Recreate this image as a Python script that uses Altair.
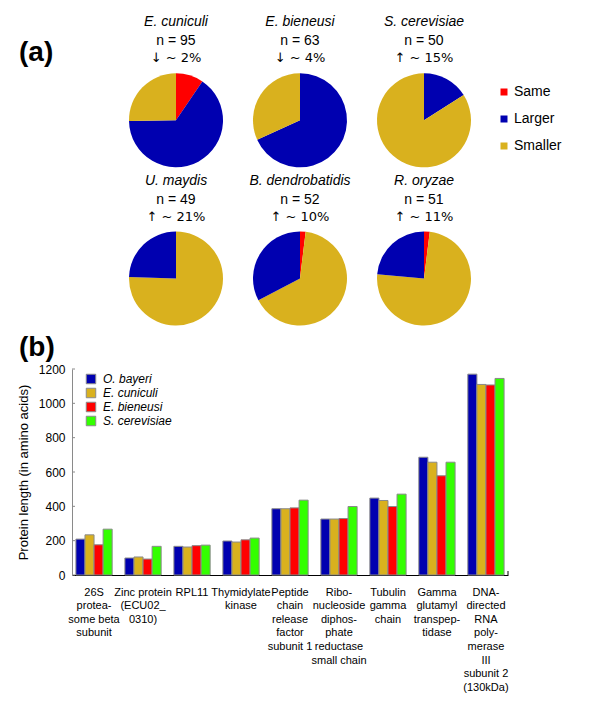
import math
import altair as alt
import pandas as pd

# ---------------- data: panel (a) ----------------
species = ["E. cuniculi", "E. bieneusi", "S. cerevisiae",
           "U. maydis", "B. dendrobatidis", "R. oryzae"]
n_total = [95, 63, 50, 49, 52, 51]
change = ["↓ ~ 2%", "↓ ~ 4%", "↑ ~ 15%", "↑ ~ 21%", "↑ ~ 10%", "↑ ~ 11%"]
same_counts = [9, 0, 0, 0, 1, 1]
larger_counts = [62, 43, 8, 12, 17, 12]
smaller_counts = [24, 20, 42, 37, 34, 38]
slice_order_row1 = ["Same", "Larger", "Smaller"]
slice_order_row2 = ["Same", "Smaller", "Larger"]
categories = ["Same", "Larger", "Smaller"]
pie_colors = ["#ff0000", "#0000b0", "#d9b11e"]

# ---------------- data: panel (b) ----------------
genes = [
    "26S|protea-|some beta|subunit",
    "Zinc protein|(ECU02_|0310)",
    "RPL11",
    "Thymidylate|kinase",
    "Peptide|chain|release|factor|subunit 1",
    "Ribo-|nucleoside|diphos-|phate|reductase|small chain",
    "Tubulin|gamma|chain",
    "Gamma|glutamyl|transpep-|tidase",
    "DNA-|directed|RNA|poly-|merase|III|subunit 2|(130kDa)",
]
bar_species = ["O. bayeri", "E. cuniculi", "E. bieneusi", "S. cerevisiae"]
o_bayeri = [209, 99, 167, 198, 386, 326, 448, 686, 1170]
e_cuniculi = [234, 105, 163, 192, 386, 326, 434, 657, 1110]
e_bieneusi = [176, 93, 171, 205, 391, 329, 399, 578, 1107]
s_cerevisiae = [267, 167, 174, 215, 436, 399, 471, 657, 1145]
bar_colors = ["#0000b0", "#d9b11e", "#ff0000", "#33ff00"]
y_ticks = [0, 200, 400, 600, 800, 1000, 1200]

FONT = "Liberation Sans"

# ---------------- build tables ----------------
pie_rows = []
title_rows = []
for i, sp in enumerate(species):
    counts = {"Same": same_counts[i], "Larger": larger_counts[i], "Smaller": smaller_counts[i]}
    order = slice_order_row1 if i < 3 else slice_order_row2
    for k, cat in enumerate(order):
        pie_rows.append({"species": sp, "gcol": i % 3, "grow": i // 3,
                         "category": cat, "count": counts[cat], "ord": k})
    title_rows.append({"species": sp, "gcol": i % 3, "grow": i // 3,
                       "ntext": f"n = {n_total[i]}", "change": change[i]})
pie_df = pd.DataFrame(pie_rows)
title_df = pd.DataFrame(title_rows)

bar_rows = []
for s, vals in zip(bar_species, [o_bayeri, e_cuniculi, e_bieneusi, s_cerevisiae]):
    for g, v in zip(genes, vals):
        bar_rows.append({"gene": g, "species": s, "length": v})
bar_df = pd.DataFrame(bar_rows)
tick_df = pd.DataFrame({"length": y_ticks})

# ---------------- panel (a) ----------------
PW = 436
PH = 320
X0 = 104.0   # first pie centre from panel origin (px)
DX = 124.0   # pie spacing (px)
Y0 = 112.3
DY = 158.2
xs = alt.Scale(domain=[-X0 / DX, (PW - X0) / DX], nice=False, zero=False)
ys = alt.Scale(domain=[-Y0 / DY, (PH - Y0) / DY], nice=False, zero=False, reverse=True)
X = alt.X("gcol:Q", scale=xs, axis=None)
Y = alt.Y("grow:Q", scale=ys, axis=None)

pies = alt.Chart(pie_df).transform_joinaggregate(
    total="sum(count)", groupby=["species"]
).transform_calculate(
    frac="datum.count / datum.total"
).transform_window(
    cum="sum(frac)", sort=[alt.SortField("ord")], groupby=["species"],
    frame=[None, 0]
).transform_calculate(
    start="datum.cum - datum.frac"
).mark_arc(outerRadius=47).encode(
    x=X, y=Y,
    theta=alt.Theta("start:Q", scale=alt.Scale(domain=[0, 1], range=[0, 2 * math.pi])),
    theta2="cum:Q",
    color=alt.Color("category:N", scale=alt.Scale(domain=categories, range=pie_colors),
                    legend=alt.Legend(title=None, orient="none", legendX=425, legendY=77,
                                      symbolType="square", symbolSize=49,
                                      symbolStrokeWidth=0,
                                      labelFontSize=14, labelFont=FONT,
                                      rowPadding=13, labelOffset=3)),
)

t_species = alt.Chart(title_df).mark_text(
    font=FONT, fontSize=14, fontStyle="italic", baseline="middle", dy=-98, color="black"
).encode(x=X, y=Y, text="species:N")
t_n = alt.Chart(title_df).mark_text(
    font=FONT, fontSize=14, baseline="middle", dy=-79, color="black"
).encode(x=X, y=Y, text="ntext:N")
t_c = alt.Chart(title_df).mark_text(
    font="DejaVu Sans", fontSize=13, baseline="middle", dy=-62, color="black"
).encode(x=X, y=Y, text="change:N")
lab_a = alt.Chart(pd.DataFrame({"t": ["(a)"]})).mark_text(
    font=FONT, fontSize=28, fontWeight="bold", align="left", baseline="middle", color="black"
).encode(x=alt.value(-53), y=alt.value(45), text="t:N")

panel_a = alt.layer(pies, t_species, t_n, t_c, lab_a).properties(width=PW, height=PH)

# ---------------- panel (b) ----------------
BH = 206
YB = alt.Y("length:Q", scale=alt.Scale(domain=[0, 1200], nice=False),
           title="Protein length (in amino acids)",
           axis=alt.Axis(values=y_ticks, format="d", ticks=False, grid=False,
                         domainColor="#8a8a8a", labelOverlap=False,
                         labelFont=FONT, labelFontSize=12, labelPadding=7,
                         labelColor="black", titleFont=FONT, titleFontSize=13,
                         titleFontWeight="normal", titlePadding=8, titleColor="black"))

bars = alt.Chart(bar_df).mark_bar(stroke="#8a8a8a", strokeWidth=1).encode(
    x=alt.X("gene:N", sort=genes, title=None,
            scale=alt.Scale(paddingInner=0.26, paddingOuter=0.08),
            axis=alt.Axis(labelExpr="split(datum.label, '|')", labelAngle=0,
                          labelFont="Liberation Sans Narrow, Liberation Sans",
                          labelFontSize=11, labelLineHeight=13.6, labelBaseline="top",
                          labelPadding=11, labelLimit=0, ticks=False, labelOverlap=False,
                          domainColor="black", domainWidth=1, labelColor="black")),
    xOffset=alt.XOffset("species:N", sort=bar_species,
                        scale=alt.Scale(paddingInner=0, paddingOuter=0)),
    y=YB,
    color=alt.Color("species:N", sort=bar_species,
                    scale=alt.Scale(domain=bar_species, range=bar_colors),
                    legend=alt.Legend(title=None, orient="none", legendX=13, legendY=4,
                                      symbolType="square", symbolSize=90,
                                      symbolStrokeColor="#8a8a8a", symbolStrokeWidth=1,
                                      labelFontSize=12, labelFont=FONT,
                                      labelFontStyle="italic", rowPadding=0,
                                      labelOffset=6)),
)
ticks = alt.Chart(tick_df).mark_rule(color="#8a8a8a").encode(
    y=YB, x=alt.value(0), x2=alt.value(3),
)
end_tick = alt.Chart(pd.DataFrame({"t": [0]})).mark_rule(color="black").encode(
    x=alt.value(PW), y=alt.value(BH - 4), y2=alt.value(BH),
)
lab_b = alt.Chart(pd.DataFrame({"t": ["(b)"]})).mark_text(
    font=FONT, fontSize=28, fontWeight="bold", align="left", baseline="middle", color="black"
).encode(x=alt.value(-53), y=alt.value(-21), text="t:N")

panel_b = alt.layer(bars, ticks, end_tick, lab_b).properties(width=PW, height=BH)

chart = alt.vconcat(panel_a, panel_b, spacing=6).resolve_scale(
    color="independent", x="independent", y="independent"
).properties(
    padding={"left": 9, "top": 0, "right": 5, "bottom": 5}
).configure(
    font=FONT, view=alt.ViewConfig(stroke=None, strokeWidth=0)
)

chart.save("out.html", embed_options={"renderer": "svg", "actions": False})
